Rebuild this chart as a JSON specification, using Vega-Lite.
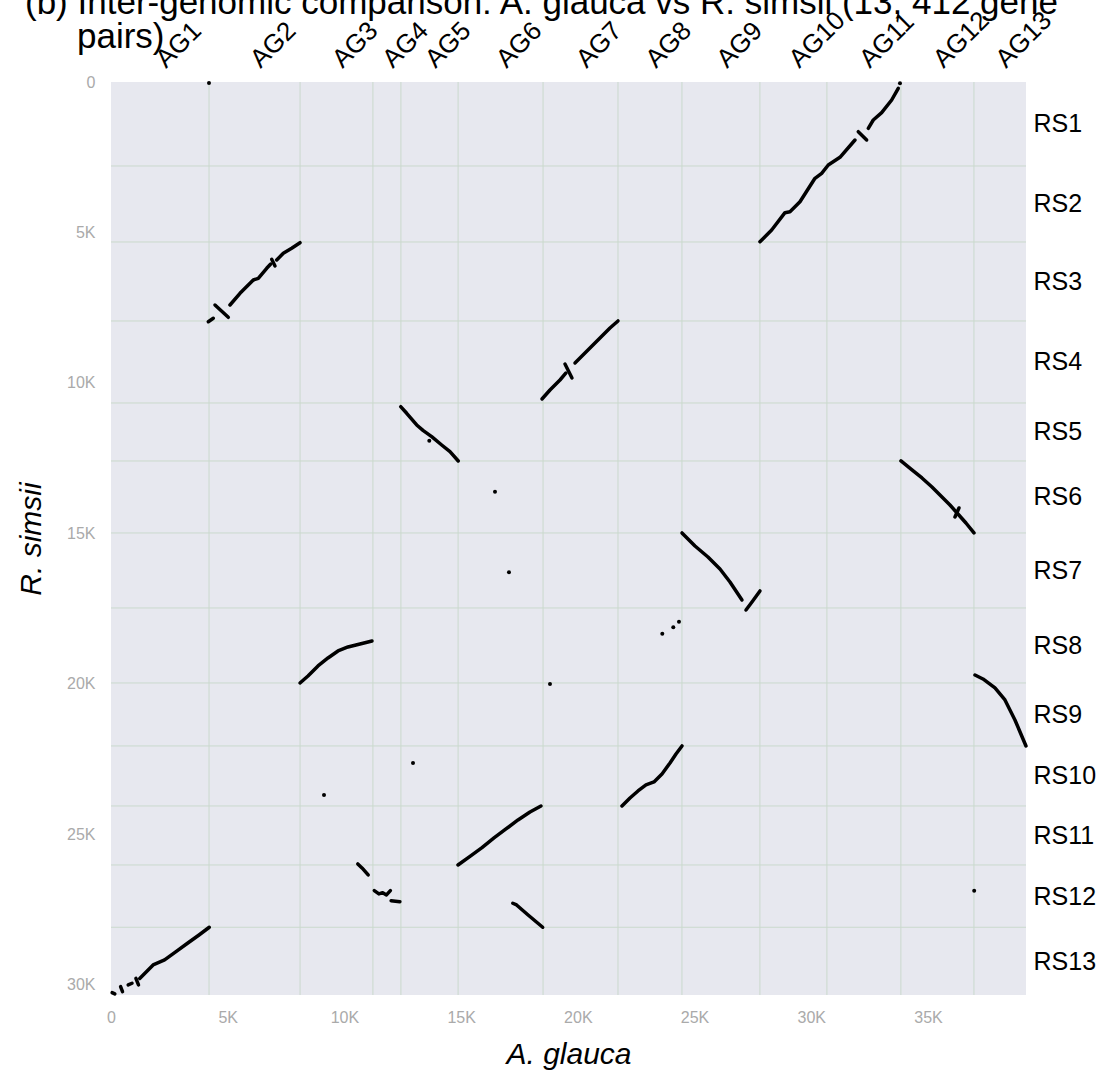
{
  "$schema": "https://vega.github.io/schema/vega-lite/v6.json",
  "width": 915,
  "height": 913,
  "autosize": {"type": "none"},
  "padding": {"left": 111, "top": 82, "right": 83, "bottom": 77},
  "background": "white",
  "config": {
    "font": "Liberation Sans",
    "view": {"fill": "#e7e8ef", "stroke": null}
  },
  "title": {
    "text": ["(b)  Inter-genomic comparison: A. glauca vs R. simsii (13, 412 gene", "\u2800\u2800pairs)"],
    "anchor": "start",
    "frame": "group",
    "dx": -86,
    "dy": 52,
    "fontSize": 35,
    "fontWeight": "normal",
    "lineHeight": 34,
    "color": "black"
  },
  "datasets": {
    "ag_bounds": [
      {"b": 4200}, {"b": 8100}, {"b": 11220}, {"b": 12420}, {"b": 14870}, {"b": 18510},
      {"b": 21720}, {"b": 24460}, {"b": 27800}, {"b": 30670}, {"b": 33840}, {"b": 36970}
    ],
    "rs_bounds": [
      {"b": 2792}, {"b": 5318}, {"b": 7944}, {"b": 10670}, {"b": 12598}, {"b": 14991},
      {"b": 17484}, {"b": 19977}, {"b": 22071}, {"b": 24066}, {"b": 26027}, {"b": 28098}
    ],
    "blocks": [
      {"seg": "AG10-RS2a", "ag": 27803, "rs": 5308},
      {"seg": "AG10-RS2a", "ag": 28304, "rs": 4920},
      {"seg": "AG10-RS2a", "ag": 28874, "rs": 4344},
      {"seg": "AG10-RS2a", "ag": 29088, "rs": 4311},
      {"seg": "AG10-RS2a", "ag": 29517, "rs": 3979},
      {"seg": "AG10-RS2a", "ag": 30159, "rs": 3201},
      {"seg": "AG10-RS2a", "ag": 30446, "rs": 3035},
      {"seg": "AG10-RS2a", "ag": 30729, "rs": 2759},
      {"seg": "AG10-RS2a", "ag": 31230, "rs": 2503},
      {"seg": "AG10-RS2a", "ag": 31873, "rs": 1928},
      {"seg": "AG11-RS1t", "ag": 32014, "rs": 1652},
      {"seg": "AG11-RS1t", "ag": 32374, "rs": 1928},
      {"seg": "AG11-RS1b", "ag": 32443, "rs": 1539},
      {"seg": "AG11-RS1b", "ag": 32657, "rs": 1263},
      {"seg": "AG11-RS1b", "ag": 33017, "rs": 1020},
      {"seg": "AG11-RS1b", "ag": 33445, "rs": 598},
      {"seg": "AG11-RS1b", "ag": 33728, "rs": 209},

      {"seg": "AG2-RS3a", "ag": 4168, "rs": 7968},
      {"seg": "AG2-RS3a", "ag": 4383, "rs": 7855},
      {"seg": "AG2-RS3t", "ag": 4455, "rs": 7413},
      {"seg": "AG2-RS3t", "ag": 5025, "rs": 7821},
      {"seg": "AG2-RS3b", "ag": 5098, "rs": 7413},
      {"seg": "AG2-RS3b", "ag": 5526, "rs": 7024},
      {"seg": "AG2-RS3b", "ag": 6096, "rs": 6582},
      {"seg": "AG2-RS3b", "ag": 6310, "rs": 6525},
      {"seg": "AG2-RS3b", "ag": 6670, "rs": 6193},
      {"seg": "AG2-RS3b", "ag": 6842, "rs": 6050},
      {"seg": "AG2-RS3u", "ag": 6884, "rs": 5893},
      {"seg": "AG2-RS3u", "ag": 7026, "rs": 6116},
      {"seg": "AG2-RS3c", "ag": 7099, "rs": 5917},
      {"seg": "AG2-RS3c", "ag": 7381, "rs": 5694},
      {"seg": "AG2-RS3c", "ag": 7741, "rs": 5528},
      {"seg": "AG2-RS3c", "ag": 8097, "rs": 5342},

      {"seg": "AG7-RS4a", "ag": 18464, "rs": 10537},
      {"seg": "AG7-RS4a", "ag": 18807, "rs": 10238},
      {"seg": "AG7-RS4a", "ag": 19235, "rs": 9906},
      {"seg": "AG7-RS4a", "ag": 19492, "rs": 9673},
      {"seg": "AG7-RS4t", "ag": 19449, "rs": 9374},
      {"seg": "AG7-RS4t", "ag": 19749, "rs": 9839},
      {"seg": "AG7-RS4b", "ag": 19878, "rs": 9340},
      {"seg": "AG7-RS4b", "ag": 20520, "rs": 8842},
      {"seg": "AG7-RS4b", "ag": 20949, "rs": 8509},
      {"seg": "AG7-RS4b", "ag": 21377, "rs": 8177},
      {"seg": "AG7-RS4b", "ag": 21720, "rs": 7944},

      {"seg": "AG4-RS5", "ag": 12411, "rs": 10793},
      {"seg": "AG4-RS5", "ag": 12668, "rs": 11013},
      {"seg": "AG4-RS5", "ag": 13096, "rs": 11401},
      {"seg": "AG4-RS5", "ag": 13379, "rs": 11591},
      {"seg": "AG4-RS5", "ag": 13739, "rs": 11790},
      {"seg": "AG4-RS5", "ag": 14167, "rs": 12066},
      {"seg": "AG4-RS5", "ag": 14523, "rs": 12289},
      {"seg": "AG4-RS5", "ag": 14878, "rs": 12598},

      {"seg": "AG9-RS7a", "ag": 24462, "rs": 14991},
      {"seg": "AG9-RS7a", "ag": 25019, "rs": 15423},
      {"seg": "AG9-RS7a", "ag": 25575, "rs": 15789},
      {"seg": "AG9-RS7a", "ag": 26090, "rs": 16188},
      {"seg": "AG9-RS7a", "ag": 26518, "rs": 16620},
      {"seg": "AG9-RS7a", "ag": 26861, "rs": 17019},
      {"seg": "AG9-RS7a", "ag": 27032, "rs": 17218},
      {"seg": "AG9-RS7b", "ag": 27203, "rs": 17551},
      {"seg": "AG9-RS7b", "ag": 27460, "rs": 17285},
      {"seg": "AG9-RS7b", "ag": 27803, "rs": 16919},

      {"seg": "AG12-RS6a", "ag": 33844, "rs": 12598},
      {"seg": "AG12-RS6a", "ag": 34315, "rs": 12897},
      {"seg": "AG12-RS6a", "ag": 34743, "rs": 13163},
      {"seg": "AG12-RS6a", "ag": 35172, "rs": 13462},
      {"seg": "AG12-RS6a", "ag": 35600, "rs": 13795},
      {"seg": "AG12-RS6a", "ag": 35943, "rs": 14061},
      {"seg": "AG12-RS6a", "ag": 36285, "rs": 14360},
      {"seg": "AG12-RS6a", "ag": 36628, "rs": 14659},
      {"seg": "AG12-RS6a", "ag": 36971, "rs": 14991},
      {"seg": "AG12-RS6t", "ag": 36157, "rs": 14459},
      {"seg": "AG12-RS6t", "ag": 36328, "rs": 14160},

      {"seg": "AG13-RS9", "ag": 37014, "rs": 19711},
      {"seg": "AG13-RS9", "ag": 37356, "rs": 19844},
      {"seg": "AG13-RS9", "ag": 37871, "rs": 20143},
      {"seg": "AG13-RS9", "ag": 38299, "rs": 20542},
      {"seg": "AG13-RS9", "ag": 38727, "rs": 21207},
      {"seg": "AG13-RS9", "ag": 39199, "rs": 22071},

      {"seg": "AG3-RS8", "ag": 8097, "rs": 19977},
      {"seg": "AG3-RS8", "ag": 8439, "rs": 19745},
      {"seg": "AG3-RS8", "ag": 8868, "rs": 19412},
      {"seg": "AG3-RS8", "ag": 9296, "rs": 19146},
      {"seg": "AG3-RS8", "ag": 9725, "rs": 18914},
      {"seg": "AG3-RS8", "ag": 10153, "rs": 18781},
      {"seg": "AG3-RS8", "ag": 10496, "rs": 18714},
      {"seg": "AG3-RS8", "ag": 10839, "rs": 18648},
      {"seg": "AG3-RS8", "ag": 11181, "rs": 18581},

      {"seg": "AG8-RS10", "ag": 21891, "rs": 24066},
      {"seg": "AG8-RS10", "ag": 22234, "rs": 23800},
      {"seg": "AG8-RS10", "ag": 22577, "rs": 23567},
      {"seg": "AG8-RS10", "ag": 22919, "rs": 23368},
      {"seg": "AG8-RS10", "ag": 23262, "rs": 23268},
      {"seg": "AG8-RS10", "ag": 23605, "rs": 23002},
      {"seg": "AG8-RS10", "ag": 23948, "rs": 22636},
      {"seg": "AG8-RS10", "ag": 24205, "rs": 22337},
      {"seg": "AG8-RS10", "ag": 24462, "rs": 22071},

      {"seg": "AG6-RS11", "ag": 14865, "rs": 26027},
      {"seg": "AG6-RS11", "ag": 15380, "rs": 25740},
      {"seg": "AG6-RS11", "ag": 15894, "rs": 25450},
      {"seg": "AG6-RS11", "ag": 16408, "rs": 25129},
      {"seg": "AG6-RS11", "ag": 16922, "rs": 24830},
      {"seg": "AG6-RS11", "ag": 17436, "rs": 24531},
      {"seg": "AG6-RS11", "ag": 17950, "rs": 24265},
      {"seg": "AG6-RS11", "ag": 18421, "rs": 24066},

      {"seg": "AG3-RS12a", "ag": 10573, "rs": 25994},
      {"seg": "AG3-RS12a", "ag": 10753, "rs": 26127},
      {"seg": "AG3-RS12a", "ag": 11018, "rs": 26359},
      {"seg": "AG4-RS12b", "ag": 11280, "rs": 26881},
      {"seg": "AG4-RS12b", "ag": 11477, "rs": 26991},
      {"seg": "AG4-RS12b", "ag": 11640, "rs": 26948},
      {"seg": "AG4-RS12b", "ag": 11802, "rs": 27024},
      {"seg": "AG4-RS12b", "ag": 11969, "rs": 26881},
      {"seg": "AG4-RS12c", "ag": 12000, "rs": 27214},
      {"seg": "AG4-RS12c", "ag": 12377, "rs": 27247},

      {"seg": "AG6-RS12", "ag": 17213, "rs": 27300},
      {"seg": "AG6-RS12", "ag": 17376, "rs": 27357},
      {"seg": "AG6-RS12", "ag": 17869, "rs": 27689},
      {"seg": "AG6-RS12", "ag": 18494, "rs": 28098},

      {"seg": "AG1-RS13a", "ag": 411, "rs": 30072},
      {"seg": "AG1-RS13a", "ag": 493, "rs": 30238},
      {"seg": "AG1-RS13b", "ag": 737, "rs": 30016},
      {"seg": "AG1-RS13b", "ag": 900, "rs": 29960},
      {"seg": "AG1-RS13c", "ag": 1067, "rs": 29799},
      {"seg": "AG1-RS13c", "ag": 1178, "rs": 30016},
      {"seg": "AG1-RS13d", "ag": 1230, "rs": 29799},
      {"seg": "AG1-RS13d", "ag": 1804, "rs": 29351},
      {"seg": "AG1-RS13d", "ag": 2296, "rs": 29185},
      {"seg": "AG1-RS13d", "ag": 2785, "rs": 28909},
      {"seg": "AG1-RS13d", "ag": 3277, "rs": 28629},
      {"seg": "AG1-RS13d", "ag": 3770, "rs": 28354},
      {"seg": "AG1-RS13d", "ag": 4211, "rs": 28098},
      {"seg": "AG1-RS13e", "ag": 47, "rs": 30272},
      {"seg": "AG1-RS13e", "ag": 163, "rs": 30315}
    ],
    "pairs": [
      {"ag": 4198, "rs": 30},
      {"ag": 33801, "rs": 43},
      {"ag": 13636, "rs": 11923},
      {"ag": 16451, "rs": 13618},
      {"ag": 17050, "rs": 16298},
      {"ag": 18807, "rs": 20010},
      {"ag": 23618, "rs": 18338},
      {"ag": 24089, "rs": 18126},
      {"ag": 24333, "rs": 17940},
      {"ag": 12938, "rs": 22636},
      {"ag": 9125, "rs": 23700},
      {"ag": 36980, "rs": 26881}
    ]
  },
  "layer": [
    {
      "data": {"name": "ag_bounds"},
      "mark": {"type": "rule", "color": "#cad9cd", "strokeWidth": 1},
      "encoding": {
        "x": {
          "field": "b",
          "type": "quantitative",
          "scale": {"domain": [0, 39200], "nice": false, "zero": false},
          "axis": {
            "orient": "top",
            "title": null,
            "values": [2100, 6150, 9660, 11820, 13645, 16690, 20115, 23090, 26130, 29235, 32255, 35405, 38085],
            "labelExpr": "'AG' + (indexof([2100, 6150, 9660, 11820, 13645, 16690, 20115, 23090, 26130, 29235, 32255, 35405, 38085], datum.value) + 1)",
            "labelAngle": -45,
            "labelFontSize": 26,
            "labelColor": "black",
            "labelPadding": 10,
            "labelOffset": 9,
            "labelOverlap": false,
            "labelFlush": false,
            "ticks": false,
            "domain": false,
            "grid": false
          }
        }
      }
    },
    {
      "data": {"name": "rs_bounds"},
      "mark": {"type": "rule", "color": "#cad9cd", "strokeWidth": 1},
      "encoding": {
        "y": {
          "field": "b",
          "type": "quantitative",
          "scale": {"domain": [0, 30350], "nice": false, "zero": false, "reverse": true},
          "axis": {
            "orient": "right",
            "title": null,
            "values": [1396, 4055, 6631, 9307, 11634, 13795, 16238, 18731, 21024, 23069, 25047, 27063, 29224],
            "labelExpr": "'RS' + (indexof([1396, 4055, 6631, 9307, 11634, 13795, 16238, 18731, 21024, 23069, 25047, 27063, 29224], datum.value) + 1)",
            "labelFontSize": 25,
            "labelColor": "black",
            "labelPadding": 7,
            "labelOverlap": false,
            "labelFlush": false,
            "ticks": false,
            "domain": false,
            "grid": false
          }
        }
      }
    },
    {
      "data": {"name": "blocks"},
      "mark": {"type": "line", "color": "black", "strokeWidth": 3.5, "strokeCap": "round", "strokeJoin": "round"},
      "encoding": {
        "x": {
          "field": "ag",
          "type": "quantitative",
          "axis": {
            "orient": "bottom",
            "title": "A. glauca",
            "titleFontSize": 30,
            "titleFontStyle": "italic",
            "titleFontWeight": "normal",
            "titleColor": "black",
            "titlePadding": 14,
            "values": [0, 5000, 10000, 15000, 20000, 25000, 30000, 35000],
            "labelExpr": "datum.value == 0 ? '0' : (datum.value / 1000) + 'K'",
            "labelFontSize": 16,
            "labelColor": "#aaaaaa",
            "labelPadding": 14,
            "labelFlush": false,
            "ticks": false,
            "domain": false,
            "grid": false
          }
        },
        "y": {
          "field": "rs",
          "type": "quantitative",
          "axis": {
            "orient": "left",
            "title": "R. simsii",
            "titleFontSize": 30,
            "titleFontStyle": "italic",
            "titleFontWeight": "normal",
            "titleColor": "black",
            "titlePadding": 20,
            "values": [0, 5000, 10000, 15000, 20000, 25000, 30000],
            "labelExpr": "datum.value == 0 ? '0' : (datum.value / 1000) + 'K'",
            "labelFontSize": 16,
            "labelColor": "#aaaaaa",
            "labelPadding": 16,
            "labelFlush": false,
            "ticks": false,
            "domain": false,
            "grid": false
          }
        },
        "detail": {"field": "seg", "type": "nominal"},
        "order": {"field": "ag", "type": "quantitative"}
      }
    },
    {
      "data": {"name": "pairs"},
      "mark": {"type": "circle", "color": "black", "size": 16, "opacity": 1},
      "encoding": {
        "x": {"field": "ag", "type": "quantitative", "axis": null},
        "y": {"field": "rs", "type": "quantitative", "axis": null}
      }
    }
  ],
  "resolve": {"axis": {"x": "independent", "y": "independent"}}
}
